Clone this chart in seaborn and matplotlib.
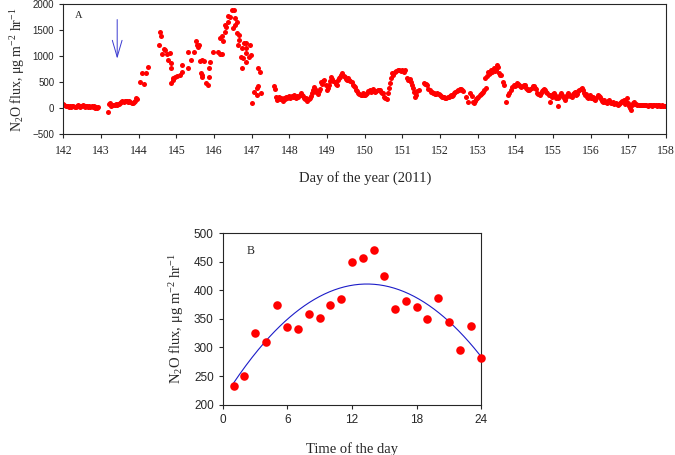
import numpy as np
import pandas as pd
import matplotlib
matplotlib.use('Agg')
import matplotlib.pyplot as plt
import seaborn as sns

# Panel A: N2O flux vs day of year 2011, (day, flux) pairs
flux_142_144 = [
    (142.00, 90), (142.03, 60), (142.06, 40), (142.09, 35), (142.12, 45), (142.15, 30),
    (142.18, 40), (142.21, 25), (142.24, 35), (142.27, 50), (142.30, 30), (142.33, 20),
    (142.36, 40), (142.39, 55), (142.42, 35), (142.45, 30), (142.48, 45), (142.51, 60),
    (142.54, 40), (142.57, 30), (142.60, 50), (142.63, 35), (142.66, 25), (142.69, 40),
    (142.72, 30), (142.75, 45), (142.78, 20), (142.81, 35), (142.84, 10), (142.87, 30),
    (142.90, 15), (142.93, 25),
    (143.18, -80), (143.21, 90), (143.24, 100), (143.27, 40), (143.30, 60), (143.33, 70),
    (143.36, 55), (143.39, 80), (143.42, 70), (143.45, 85), (143.48, 75), (143.51, 100),
    (143.54, 130), (143.57, 140), (143.60, 130), (143.63, 145), (143.66, 135), (143.69, 140),
    (143.72, 125), (143.75, 150), (143.78, 130), (143.81, 110), (143.84, 100), (143.87, 125),
    (143.90, 150), (143.93, 200), (143.96, 175),
]

flux_144_148 = [
    (144.03, 510), (144.15, 470), (144.10, 670), (144.19, 680), (144.25, 790),
    (144.56, 1460), (144.59, 1390), (144.55, 1210), (144.63, 1040), (144.68, 1150),
    (144.71, 1120), (144.74, 1045), (144.79, 930), (144.83, 1058), (144.85, 865),
    (144.87, 769), (144.90, 577), (144.87, 494), (144.96, 609), (144.92, 545),
    (145.03, 628), (145.09, 641), (145.14, 833), (145.16, 705), (145.30, 769),
    (145.32, 1090), (145.39, 929), (145.47, 1090), (145.51, 1301), (145.55, 1218),
    (145.61, 1218), (145.58, 1173), (145.63, 917), (145.69, 929), (145.74, 917),
    (145.65, 686), (145.69, 641), (145.69, 596), (145.80, 481), (145.84, 449),
    (145.86, 596), (145.87, 769), (145.89, 885), (145.96, 1077),
    (146.11, 1090), (146.16, 1045), (146.22, 1045), (146.16, 1346), (146.20, 1397),
    (146.24, 1301), (146.29, 1474), (146.33, 1570), (146.30, 1602), (146.36, 1666),
    (146.38, 1775), (146.42, 1762), (146.47, 1891), (146.53, 1891), (146.55, 1731),
    (146.51, 1538), (146.56, 1602), (146.60, 1666), (146.62, 1442), (146.67, 1410),
    (146.67, 1313), (146.64, 1218), (146.73, 1154), (146.71, 994), (146.76, 961),
    (146.75, 769), (146.80, 1250), (146.85, 1250), (146.84, 1154), (146.86, 1058),
    (146.86, 897), (146.95, 1218), (146.97, 1026), (146.93, 994),
    (147.02, 109), (147.07, 320), (147.13, 385), (147.17, 429), (147.15, 256),
    (147.24, 301), (147.17, 769), (147.23, 705),
    (147.59, 420), (147.61, 365), (147.64, 224), (147.66, 160),
    (147.70, 190), (147.73, 210), (147.76, 170), (147.79, 200), (147.82, 150),
    (147.85, 200), (147.88, 170), (147.91, 220), (147.94, 190), (147.97, 210),
]

flux_148_151 = [
    (148.00, 230), (148.03, 200), (148.06, 240), (148.09, 210), (148.12, 250), (148.15, 220),
    (148.18, 200), (148.21, 240), (148.24, 210), (148.27, 260), (148.30, 300), (148.33, 250),
    (148.36, 230), (148.39, 200), (148.42, 170), (148.45, 190), (148.48, 150), (148.51, 170),
    (148.54, 200), (148.57, 240), (148.60, 300), (148.63, 350), (148.66, 410), (148.69, 380),
    (148.72, 320), (148.75, 270), (148.78, 330), (148.81, 380), (148.84, 500), (148.87, 470),
    (148.90, 520), (148.93, 540), (148.96, 450), (148.99, 350),
    (149.02, 400), (149.05, 450), (149.08, 520), (149.11, 600), (149.14, 560), (149.17, 530),
    (149.20, 500), (149.23, 470), (149.26, 440), (149.29, 540), (149.32, 580), (149.35, 600),
    (149.38, 640), (149.41, 670), (149.44, 620), (149.47, 600), (149.50, 560), (149.53, 540),
    (149.56, 580), (149.59, 550), (149.62, 520), (149.65, 510), (149.68, 450), (149.71, 430),
    (149.74, 410), (149.77, 360), (149.80, 330), (149.83, 300), (149.86, 280), (149.89, 260),
    (149.92, 250), (149.95, 290), (149.98, 250),
    (150.01, 260), (150.04, 280), (150.07, 300), (150.10, 330), (150.13, 350), (150.16, 310),
    (150.19, 330), (150.22, 370), (150.25, 340), (150.28, 320), (150.31, 330), (150.34, 350),
    (150.37, 360), (150.40, 350), (150.43, 320), (150.46, 300), (150.49, 290), (150.52, 220),
    (150.55, 200), (150.58, 170), (150.61, 300), (150.64, 400), (150.67, 480), (150.70, 580),
    (150.73, 670), (150.76, 640), (150.80, 690), (150.84, 710), (150.88, 730), (150.92, 740),
    (150.96, 720),
]

flux_151_154 = [
    (151.00, 730), (151.04, 700), (151.08, 730), (151.11, 580), (151.14, 550), (151.17, 540),
    (151.20, 560), (151.23, 510), (151.26, 450), (151.29, 390), (151.32, 320), (151.34, 220),
    (151.37, 260), (151.40, 330), (151.43, 360),
    (151.57, 490), (151.60, 470), (151.63, 460), (151.66, 440), (151.69, 380), (151.72, 350),
    (151.75, 320), (151.78, 310), (151.81, 300), (151.84, 290), (151.87, 280), (151.90, 270),
    (151.93, 290), (151.96, 270), (151.99, 250), (152.02, 230), (152.05, 220), (152.08, 210),
    (152.11, 225), (152.14, 200), (152.17, 190), (152.20, 210), (152.23, 220), (152.26, 230),
    (152.29, 250), (152.32, 240), (152.35, 260), (152.38, 290), (152.41, 310), (152.44, 330),
    (152.47, 350), (152.50, 360), (152.53, 370), (152.56, 380), (152.59, 360), (152.62, 340),
    (152.70, 210), (152.73, 130), (152.80, 300), (152.84, 230), (152.87, 130), (152.90, 100),
    (152.93, 150), (152.96, 180), (152.99, 200), (153.02, 220), (153.05, 250), (153.08, 270),
    (153.11, 290), (153.14, 320), (153.17, 350), (153.20, 580), (153.22, 390), (153.25, 620),
    (153.27, 700), (153.30, 660), (153.33, 680), (153.36, 740), (153.39, 700), (153.42, 770),
    (153.45, 720), (153.48, 740), (153.51, 830), (153.54, 790), (153.57, 680), (153.60, 650),
    (153.63, 640), (153.66, 510), (153.69, 450), (153.76, 130), (153.80, 260), (153.84, 290),
    (153.88, 350), (153.92, 410), (153.95, 440),
]

flux_154_158 = [
    (153.98, 420), (154.01, 450), (154.04, 480), (154.07, 460), (154.10, 440), (154.13, 420),
    (154.16, 410), (154.19, 430), (154.22, 445), (154.25, 450), (154.28, 400), (154.31, 370),
    (154.34, 360), (154.37, 350), (154.40, 380), (154.43, 400), (154.46, 420), (154.49, 430),
    (154.52, 400), (154.55, 380), (154.58, 300), (154.61, 280), (154.64, 250), (154.67, 300),
    (154.70, 330), (154.73, 350), (154.76, 380), (154.79, 360), (154.82, 320), (154.85, 290),
    (154.88, 260), (154.91, 250), (154.93, 130), (154.97, 220),
    (155.00, 280), (155.03, 290), (155.06, 250), (155.09, 200), (155.12, 190), (155.13, 50),
    (155.16, 220), (155.19, 260), (155.22, 290), (155.25, 250), (155.28, 200), (155.31, 160),
    (155.34, 220), (155.37, 260), (155.40, 290), (155.43, 260), (155.46, 240), (155.49, 220),
    (155.52, 280), (155.55, 300), (155.58, 310), (155.61, 260), (155.64, 280), (155.67, 330),
    (155.70, 350), (155.73, 380), (155.76, 390), (155.79, 350), (155.82, 300), (155.85, 260),
    (155.88, 280), (155.91, 220), (155.94, 190), (155.97, 250),
    (156.00, 200), (156.03, 190), (156.06, 220), (156.09, 170), (156.12, 160), (156.15, 190),
    (156.18, 250), (156.21, 240), (156.24, 220), (156.27, 170), (156.30, 150), (156.33, 130),
    (156.36, 160), (156.39, 120), (156.42, 100), (156.45, 150), (156.48, 160), (156.51, 130),
    (156.54, 100), (156.57, 110), (156.60, 130), (156.63, 80), (156.66, 95), (156.69, 90),
    (156.72, 65), (156.75, 80), (156.78, 100), (156.81, 120), (156.84, 150), (156.87, 160),
    (156.90, 85), (156.93, 120), (156.96, 190), (156.99, 100),
    (157.02, 40), (157.05, 0), (157.07, -35), (157.09, 60), (157.12, 100), (157.15, 130),
    (157.18, 90), (157.21, 80), (157.24, 70), (157.27, 60), (157.30, 65), (157.33, 55),
    (157.36, 60), (157.39, 70), (157.42, 55), (157.45, 65), (157.48, 60), (157.51, 50),
    (157.54, 60), (157.57, 55), (157.60, 65), (157.63, 50), (157.66, 60), (157.69, 55),
    (157.72, 60), (157.75, 50), (157.78, 55), (157.81, 60), (157.84, 50), (157.87, 45),
    (157.90, 55), (157.93, 50), (157.96, 45), (157.99, 50),
]

# Panel B: mean flux by hour of the day
hour_b = list(range(1, 25))
flux_b = [233, 250, 325, 310, 374, 335, 332, 358, 351, 375, 384, 450,
          456, 471, 425, 368, 381, 370, 350, 387, 344, 295, 337, 281]

sns.set_style('ticks')
plt.rcParams['font.family'] = ['Liberation Serif', 'DejaVu Serif']
plt.rcParams['mathtext.default'] = 'regular'
plt.rcParams['axes.linewidth'] = 0.8

ylab = 'N$_2$O flux, μg m$^{-2}$ hr$^{-1}$'

df_a = pd.DataFrame(flux_142_144 + flux_144_148 + flux_148_151 + flux_151_154 + flux_154_158,
                    columns=['doy', 'flux'])
df_b = pd.DataFrame({'hour': hour_b, 'flux': flux_b})

# quadratic fit for panel B
coef = np.polyfit(df_b['hour'], df_b['flux'], 2)
xfit = np.linspace(1, 24, 200)
df_fit = pd.DataFrame({'hour': xfit, 'flux': np.polyval(coef, xfit)})

fig = plt.figure(figsize=(6.75, 4.55), dpi=100)
ax_a = fig.add_axes([0.0938, 0.7048, 0.893, 0.2857])
ax_b = fig.add_axes([0.33, 0.1105, 0.383, 0.3774])

# --- panel A
sns.scatterplot(data=df_a, x='doy', y='flux', ax=ax_a, color='#ff0000', s=13, linewidth=0)
ax_a.set_xlim(142, 158)
ax_a.set_ylim(-500, 2000)
ax_a.set_xticks(range(142, 159))
ax_a.set_yticks(range(-500, 2001, 500))
ax_a.set_xlabel('Day of the year (2011)', fontsize=10.5, labelpad=10)
ax_a.set_ylabel(ylab, fontsize=10, labelpad=4)
ax_a.tick_params(axis='x', labelsize=8.5, length=3, width=0.8, pad=5)
ax_a.tick_params(axis='y', labelsize=7, length=3, width=0.8, labelfontfamily='Liberation Sans')
ax_a.text(0.026, 0.914, 'A', transform=ax_a.transAxes, fontsize=7.5, ha='center', va='center')
ax_a.annotate('', xy=(143.43, 900), xytext=(143.43, 1760),
              arrowprops=dict(arrowstyle='->, head_length=1.2, head_width=0.35',
                              color='#3a3ad0', lw=0.7))

# --- panel B
sns.lineplot(data=df_fit, x='hour', y='flux', ax=ax_b, color='#1c1cc8', lw=0.8)
sns.scatterplot(data=df_b, x='hour', y='flux', ax=ax_b, color='#ff0000', s=38, linewidth=0,
                clip_on=False, zorder=3)
ax_b.set_xlim(0, 24)
ax_b.set_ylim(200, 500)
ax_b.set_xticks([0, 6, 12, 18, 24])
ax_b.set_yticks(range(200, 501, 50))
ax_b.set_xlabel('Time of the day', fontsize=10.5, labelpad=12)
ax_b.set_ylabel(ylab, fontsize=10.5, labelpad=6)
ax_b.tick_params(axis='both', labelsize=8.5, length=3, width=0.8, labelfontfamily='Liberation Sans')
ax_b.text(0.1075, 0.895, 'B', transform=ax_b.transAxes, fontsize=8.5, ha='center', va='center')

fig.savefig('out.png', dpi=100)
